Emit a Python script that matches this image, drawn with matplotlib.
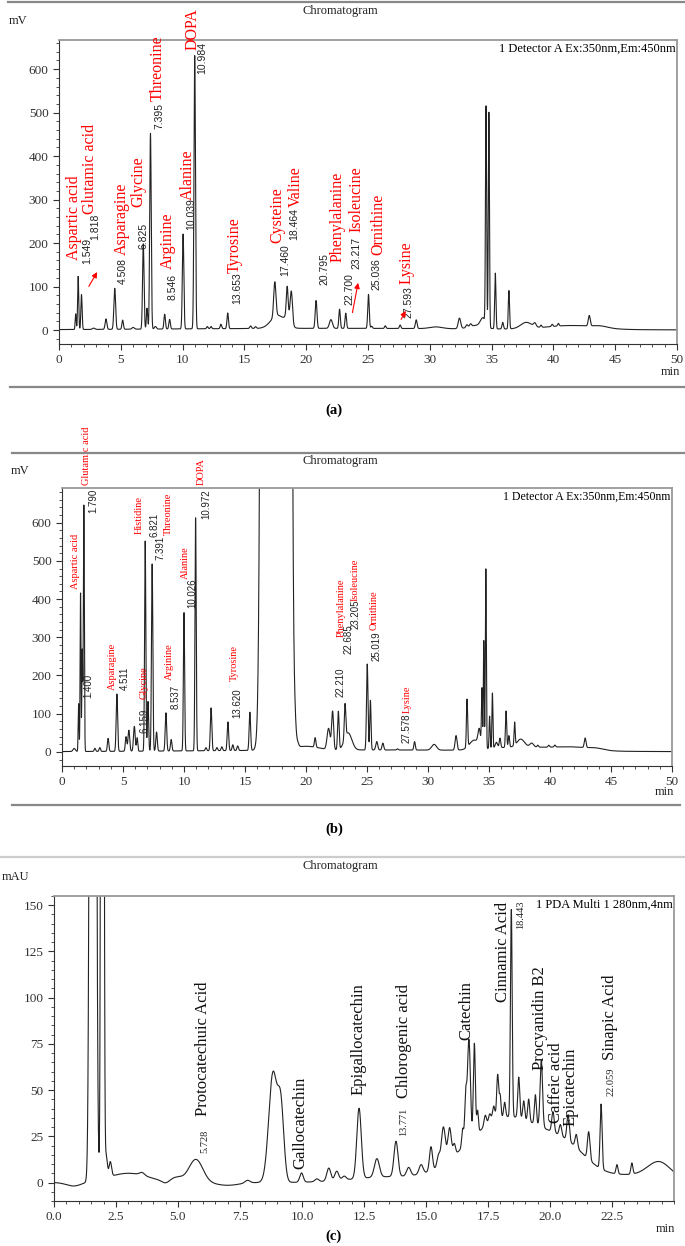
import numpy as np
import matplotlib.pyplot as plt
from matplotlib.lines import Line2D
from matplotlib.ticker import MultipleLocator

plt.rcParams['font.family'] = ['Liberation Serif', 'DejaVu Serif']

W, H = 685, 1246

# ---------------- (a) peak table: retention time, height, width (sd) ----------------
a_rt = [22.0, 17.7, 18.55, 30.5, 33.8, 34.3, 37.8, 41.5, 43.8,
        1.35, 1.55, 1.82, 2.8, 3.8, 4.51, 5.15, 6.0, 6.82, 7.12, 7.40, 7.8, 8.55, 8.95,
        10.04, 10.98, 12.0, 12.3, 13.1, 13.65, 15.5, 15.9, 17.46, 18.46, 18.8, 20.8,
        22.0, 22.7, 23.2, 25.04, 25.3, 26.4, 27.6, 28.9, 32.4, 33.0, 33.3,
        34.55, 34.78, 35.3, 35.9, 36.4, 38.5, 39.0, 39.9, 40.4, 42.9]
a_h = [4, 30, 22, 4, 8, 20, 14, 9, 4,
       36, 122, 80, 3, 24, 94, 21, 4, 196, 48, 450, 6, 34, 22,
       218, 628, 5, 5, 10, 36, 6, 4, 80, 65, 70, 64,
       20, 44, 35, 78, 5, 6, 8, 20, 24, 6, 6,
       500, 495, 128, 15, 88, 8, 5, 5, 6, 24]
a_w = [14, 0.55, 0.22, 0.5, 0.6, 0.2, 0.45, 2.0, 0.6,
       0.04, 0.045, 0.05, 0.1, 0.07, 0.07, 0.06, 0.1, 0.06, 0.05, 0.06, 0.08, 0.06, 0.06,
       0.06, 0.06, 0.06, 0.06, 0.06, 0.06, 0.07, 0.07, 0.09, 0.07, 0.09, 0.07,
       0.12, 0.06, 0.06, 0.06, 0.06, 0.06, 0.06, 0.07, 0.1, 0.08, 0.08,
       0.045, 0.045, 0.05, 0.06, 0.05, 0.1, 0.06, 0.06, 0.06, 0.08]

a_names = ["Aspartic acid", "Glutamic acid", "Asparagine", "Glycine", "Threonine", "Arginine",
           "Alanine", "DOPA", "Tyrosine", "Cysteine", "Valine", "Phenylalanine", "Isoleucine",
           "Ornithine", "Lysine"]
a_name_x = [1.19, 2.54, 5.08, 6.46, 7.95, 8.8, 10.4, 10.78, 14.24, 17.7, 19.2, 22.5, 24.03, 25.8, 28.16]
a_name_y = [160, 267, 172, 282, 527, 141, 300, 645, 131, 200, 284, 156, 225, 172, 107]
a_rt_labels = ["1.549", "1.818", "4.508", "6.825", "7.395", "8.546", "10.039", "10.984", "13.653",
               "17.460", "18.464", "20.795", "22.700", "23.217", "25.036", "27.593"]
a_rt_x = [2.3, 2.95, 5.16, 6.8, 8.15, 9.19, 10.73, 11.6, 14.4, 18.3, 19.05, 21.5, 23.49, 24.03, 25.68, 28.3]
a_rt_y = [153, 206, 107, 187, 462, 69, 229, 588, 60, 125, 206, 103, 57, 141, 92, 27]
a_arrow_from = [(2.3, 95), (23.7, 34), (27.57, 19)]
a_arrow_to = [(3.2, 139), (24.24, 115), (28.16, 50)]

# ---------------- (b) ----------------
b_rt = [25.0, 17.55, 19.1, 19.3, 20.0,
        1.0, 1.36, 1.52, 1.66, 1.79, 2.7, 3.1, 3.78, 4.5, 5.25, 5.48, 5.93, 6.16, 6.82, 7.05,
        7.39, 7.75, 8.52, 8.95, 10.0, 10.95, 11.8, 12.22, 12.7, 13.1, 13.6, 14.0, 14.4, 15.4,
        20.75, 21.85, 22.18, 22.65, 23.2, 23.45, 25.02, 25.28, 25.8, 26.3, 27.5, 28.9, 30.5,
        32.3, 33.2, 33.8, 34.2, 34.42, 34.57, 34.74, 35.05, 35.28, 35.6, 35.9, 36.4, 36.63,
        37.1, 37.6, 38.5, 39.0, 39.9, 40.4, 37.5, 41.8, 42.88, 43.8]
b_h = [5, 1e6, 30, 10, 10,
       8, 125, 415, 265, 645, 8, 10, 34, 150, 38, 55, 65, 35, 550, 130,
       490, 50, 100, 30, 362, 610, 8, 112, 8, 10, 75, 15, 12, 100,
       25, 55, 100, 100, 90, 45, 225, 130, 22, 18, 3, 22, 15,
       38, 125, 25, 40, 150, 280, 470, 85, 145, 15, 25, 95, 30,
       60, 20, 10, 5, 5, 5, 10, 10, 25, 4]
b_w = [13, 0.36, 0.08, 0.1, 1.0,
       0.1, 0.035, 0.035, 0.035, 0.04, 0.06, 0.06, 0.06, 0.06, 0.06, 0.07, 0.07, 0.05, 0.05, 0.05,
       0.055, 0.06, 0.06, 0.06, 0.05, 0.05, 0.06, 0.06, 0.06, 0.06, 0.06, 0.06, 0.06, 0.06,
       0.06, 0.12, 0.08, 0.06, 0.06, 0.3, 0.06, 0.05, 0.08, 0.07, 0.06, 0.06, 0.2,
       0.08, 0.05, 0.4, 0.1, 0.04, 0.035, 0.04, 0.04, 0.04, 0.1, 0.06, 0.05, 0.05,
       0.045, 0.3, 0.15, 0.06, 0.06, 0.06, 2.0, 1.6, 0.07, 0.6]

b_names = ["Aspartic acid", "Glutamic acid", "Asparagine", "Glycine", "Histidine", "Threonine",
           "Arginine", "Alanine", "DOPA", "Tyrosine", "Phenylalanine", "Isoleucine", "Ornithine", "Lysine"]
b_name_x = [1.09, 1.99, 4.15, 6.77, 6.33, 8.76, 8.81, 10.12, 11.43, 14.13, 22.87, 24.04, 25.55, 28.28]
b_name_y = [426, 699, 163, 138, 570, 568, 189, 452, 699, 185, 302, 394, 320, 102]
b_rt_labels = ["1.790", "1.400", "4.511", "6.159", "6.821", "7.391", "8.537", "10.026", "10.972",
               "13.620", "22.210", "22.685", "23.205", "25.019", "27.578"]
b_rt_x = [2.6, 2.13, 5.18, 6.77, 7.59, 8.08, 9.33, 10.7, 11.79, 14.4, 22.87, 23.5, 24.04, 25.77, 28.28]
b_rt_y = [626, 141, 163, 50, 562, 503, 111, 376, 611, 89, 144, 257, 321, 237, 23]

# ---------------- (c) ----------------
c_rt = [17.5, 19.2, 20.8, 23.5, 24.4, 13.5, 3.0, 0.8, 4.95, 4.5, 7.0, 3.55,
        1.57, 1.95, 2.1, 2.27, 5.72, 7.8, 8.83, 9.15, 9.98, 10.6, 11.08, 11.4, 11.7,
        12.3, 13.02, 13.79, 14.3, 14.8, 15.2, 15.5, 15.7, 15.95, 16.14, 16.48, 16.6, 16.73,
        16.95, 17.08, 17.39, 17.57, 17.73, 17.89, 17.99, 18.17, 18.44, 18.74, 18.94, 19.14,
        19.41, 19.65, 20.12, 20.42, 20.73, 21.06, 21.56, 22.06, 22.7, 23.3]
c_h = [22, 22, 10, 4, 8, 3, 5, -2, 2.5, -1.5, -1.5, 1.5,
       2000, 1500, 12, 8, 12.5, 1.5, 59, 38, 5, 1.5, 7, 5, 2,
       38, 10, 19, 4.5, 5, 13, 6, 20, 17, 6, 10, 25, 55,
       50, 12, 6, 5, 8, 24, 12, 8, 112, 22, 10, 12,
       16, 36, 11, 6, 14, 7, 15, 35, 5, 6]
c_w = [1.3, 1.3, 0.8, 1.5, 0.45, 1.5, 0.8, 0.3, 0.25, 0.15, 0.45, 0.1,
       0.075, 0.04, 0.05, 0.05, 0.28, 0.1, 0.17, 0.12, 0.07, 0.08, 0.08, 0.08, 0.08,
       0.09, 0.1, 0.08, 0.08, 0.08, 0.06, 0.06, 0.08, 0.07, 0.05, 0.04, 0.04, 0.06,
       0.04, 0.035, 0.05, 0.05, 0.05, 0.04, 0.035, 0.04, 0.035, 0.04, 0.04, 0.04,
       0.04, 0.05, 0.05, 0.05, 0.05, 0.05, 0.05, 0.04, 0.04, 0.04]

c_names = ["Protocatechuic Acid", "Gallocatechin", "Epigallocatechin", "Chlorogenic acid", "Catechin",
           "Cinnamic Acid", "Procyanidin B2", "Caffeic acid", "Epicatechin", "Sinapic Acid"]
c_name_x = [5.99, 9.95, 12.28, 14.1, 16.63, 18.1, 19.61, 20.26, 20.82, 22.4]
c_name_y = [36, 7.2, 47.6, 45.8, 77, 97.4, 60.7, 32, 30.5, 66.5]
c_rt_labels = ["5.728", "13.771", "18.443", "22.059"]
c_rt_x = [6.09, 14.1, 18.8, 22.47]
c_rt_y = [16.2, 25, 137, 46.7]


def trace(t, rt, h, w):
    y = np.zeros_like(t)
    for r, hh, ww in zip(rt, h, w):
        y += hh * np.exp(-0.5 * ((t - r) / ww) ** 2)
    return y


def fx(x):
    return x / W


def fy(y):
    return 1 - y / H


def setup(ax, xmax, ymin, ymax, xmaj, xmin_, ymaj, ymin_, fmt):
    ax.set_xlim(0, xmax)
    ax.set_ylim(ymin, ymax)
    ax.xaxis.set_major_locator(MultipleLocator(xmaj))
    ax.xaxis.set_minor_locator(MultipleLocator(xmin_))
    ax.yaxis.set_major_locator(MultipleLocator(ymaj))
    ax.yaxis.set_minor_locator(MultipleLocator(ymin_))
    ax.xaxis.set_major_formatter(fmt)
    ax.tick_params(which='both', direction='out', colors='#333', labelsize=9.5)
    ax.tick_params(which='major', length=4)
    ax.tick_params(which='minor', length=2.5)
    for s in ['top', 'right']:
        ax.spines[s].set_color('#999')
        ax.spines[s].set_linewidth(1.3)
    for s in ['left', 'bottom']:
        ax.spines[s].set_color('#333')


fig = plt.figure(figsize=(6.85, 12.46), dpi=100)

# frame lines
for y0, x0, x1, col in [(2, 8, 685, '#888'), (387, 10, 685, '#888'), (453, 12, 685, '#888'),
                        (805, 12, 680, '#888'), (857, 0, 685, '#ccc')]:
    fig.add_artist(Line2D([fx(x0), fx(x1)], [fy(y0), fy(y0)], color=col, lw=1.6,
                          transform=fig.transFigure))

# ---- (a)
ax = fig.add_axes([fx(59), fy(344), fx(618), 304 / H])
t = np.linspace(0, 50, 10001)
ax.plot(t, trace(t, a_rt, a_h, a_w), color='#222', lw=0.8)
setup(ax, 50, -32, 667, 5, 1, 100, 20, plt.FormatStrFormatter('%d'))
for n, x, y in zip(a_names, a_name_x, a_name_y):
    ax.text(x, y, n, rotation=90, ha='center', va='bottom', color='red', fontsize=11.5, clip_on=False)
for n, x, y in zip(a_rt_labels, a_rt_x, a_rt_y):
    ax.text(x, y, n, rotation=90, ha='center', va='bottom', color='#222', fontsize=7.5,
            family='Liberation Sans', clip_on=False)
for p0, p1 in zip(a_arrow_from, a_arrow_to):
    ax.annotate('', xy=p1, xytext=p0,
                arrowprops=dict(arrowstyle='-|>', color='red', lw=0.8, mutation_scale=8))
ax.text(0.998, 0.99, '1 Detector A Ex:350nm,Em:450nm', transform=ax.transAxes,
        ha='right', va='top', fontsize=9)

# ---- (b)
ax = fig.add_axes([fx(62), fy(766), fx(610), 278 / H])
ax.plot(t, trace(t, b_rt, b_h, b_w), color='#222', lw=0.8)
setup(ax, 50, -37, 691, 5, 1, 100, 20, plt.FormatStrFormatter('%d'))
for n, x, y in zip(b_names, b_name_x, b_name_y):
    ax.text(x, y, n, rotation=90, ha='center', va='bottom', color='red', fontsize=7.5, clip_on=False)
for n, x, y in zip(b_rt_labels, b_rt_x, b_rt_y):
    ax.text(x, y, n, rotation=90, ha='center', va='bottom', color='#222', fontsize=7,
            family='Liberation Sans', clip_on=False)
ax.text(0.998, 0.99, '1 Detector A Ex:350nm,Em:450nm', transform=ax.transAxes,
        ha='right', va='top', fontsize=8.5)

# ---- (c)
ax = fig.add_axes([fx(54), fy(1201), fx(620), 305 / H])
tc = np.linspace(0, 25, 10001)
ax.plot(tc, trace(tc, c_rt, c_h, c_w), color='#222', lw=0.8)
setup(ax, 25, -10, 155, 2.5, 0.5, 25, 5, plt.FormatStrFormatter('%.1f'))
ax.set_xticks([0, 2.5, 5, 7.5, 10, 12.5, 15, 17.5, 20, 22.5])
for n, x, y in zip(c_names, c_name_x, c_name_y):
    ax.text(x, y, n, rotation=90, ha='center', va='bottom', color='#111', fontsize=12, clip_on=False)
for n, x, y in zip(c_rt_labels, c_rt_x, c_rt_y):
    ax.text(x, y, n, rotation=90, ha='center', va='bottom', color='#222', fontsize=7.5, clip_on=False)
ax.text(0.998, 0.99, '1 PDA Multi 1 280nm,4nm', transform=ax.transAxes,
        ha='right', va='top', fontsize=9)

# figure texts
for x, y, s in [(340, 11, 'Chromatogram'), (340, 461, 'Chromatogram'), (340, 866, 'Chromatogram')]:
    fig.text(fx(x), fy(y), s, ha='center', va='center', fontsize=9, color='#222')
for x, y, s in [(18, 21, 'mV'), (20, 471, 'mV'), (16, 877, 'mAU')]:
    fig.text(fx(x), fy(y), s, ha='center', va='center', fontsize=9, color='#222')
for x, y in [(670, 372), (664, 792), (665, 1229)]:
    fig.text(fx(x), fy(y), 'min', ha='center', va='center', fontsize=9, color='#222')
for x, y, s in [(334, 410, '(a)'), (334, 829, '(b)'), (334, 1236, '(c)')]:
    fig.text(fx(x), fy(y), s, ha='center', va='center', fontsize=10.5, fontweight='bold')

fig.savefig('out.png', dpi=100)
